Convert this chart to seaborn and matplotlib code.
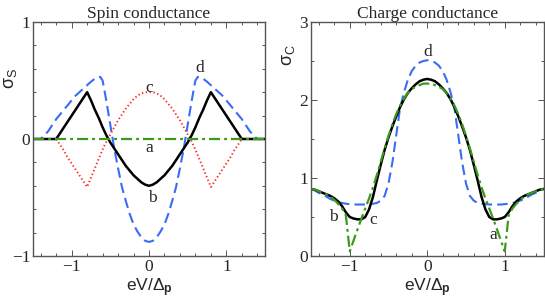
import numpy as np
import pandas as pd
import matplotlib
matplotlib.use("Agg")
import matplotlib.pyplot as plt
from matplotlib.ticker import MultipleLocator
import seaborn as sns

# ---------------- data ----------------
x_grid = [-1.5, -1.45, -1.4, -1.35, -1.3, -1.25, -1.2, -1.15, -1.1, -1.05,
          -1.0, -0.95, -0.9, -0.85, -0.8, -0.75, -0.7, -0.65, -0.6, -0.55,
          -0.5, -0.45, -0.4, -0.35, -0.3, -0.25, -0.2, -0.15, -0.1, -0.05,
          0.0, 0.05, 0.1, 0.15, 0.2, 0.25, 0.3, 0.35, 0.4, 0.45,
          0.5, 0.55, 0.6, 0.65, 0.7, 0.75, 0.8, 0.85, 0.9, 0.95,
          1.0, 1.05, 1.1, 1.15, 1.2, 1.25, 1.3, 1.35, 1.4, 1.45, 1.5]

# Spin conductance
spin_a_x = [-1.5, 1.5]
spin_a = [0.0, 0.0]
spin_b = [0, 0, 0, 0, 0, 0, 0, 0.05, 0.10, 0.15,
          0.20, 0.25, 0.30, 0.35, 0.40, 0.33, 0.25, 0.18, 0.10, 0.03,
          -0.03, -0.08, -0.13, -0.18, -0.23, -0.27, -0.31, -0.34, -0.37, -0.39,
          -0.40, -0.39, -0.37, -0.34, -0.31, -0.27, -0.23, -0.18, -0.13, -0.08,
          -0.03, 0.03, 0.10, 0.18, 0.25, 0.33, 0.40, 0.35, 0.30, 0.25,
          0.20, 0.15, 0.10, 0.05, 0, 0, 0, 0, 0, 0, 0]
spin_c = [0, 0, 0, 0, 0, 0, 0, -0.05, -0.10, -0.16,
          -0.21, -0.26, -0.31, -0.36, -0.41, -0.33, -0.25, -0.17, -0.09, -0.02,
          0.04, 0.10, 0.16, 0.21, 0.26, 0.30, 0.34, 0.37, 0.39, 0.40,
          0.40, 0.40, 0.39, 0.37, 0.34, 0.30, 0.26, 0.21, 0.16, 0.10,
          0.04, -0.02, -0.09, -0.17, -0.25, -0.33, -0.41, -0.36, -0.31, -0.26,
          -0.21, -0.16, -0.10, -0.05, 0, 0, 0, 0, 0, 0, 0]
spin_d_x = [-1.5, -1.45, -1.4, -1.35, -1.3, -1.25, -1.2, -1.15, -1.1, -1.05,
            -1.0, -0.95, -0.9, -0.85, -0.8, -0.75, -0.7, -0.66, -0.63, -0.6, -0.55,
            -0.5, -0.45, -0.4, -0.35, -0.3, -0.25, -0.2, -0.15, -0.1, -0.05,
            0.0, 0.05, 0.1, 0.15, 0.2, 0.25, 0.3, 0.35, 0.4, 0.45,
            0.5, 0.55, 0.6, 0.63, 0.66, 0.7, 0.75, 0.8, 0.85, 0.9, 0.95,
            1.0, 1.05, 1.1, 1.15, 1.2, 1.25, 1.3, 1.35, 1.4, 1.45, 1.5]
spin_d = [0, 0, 0, 0.03, 0.07, 0.12, 0.17, 0.21, 0.25, 0.29,
          0.33, 0.37, 0.40, 0.43, 0.46, 0.49, 0.515, 0.528, 0.53, 0.50, 0.32,
          0.12, -0.08, -0.25, -0.41, -0.53, -0.64, -0.73, -0.79, -0.84, -0.87,
          -0.88, -0.87, -0.84, -0.79, -0.73, -0.64, -0.53, -0.41, -0.25, -0.08,
          0.12, 0.32, 0.50, 0.53, 0.528, 0.515, 0.49, 0.46, 0.43, 0.40, 0.37,
          0.33, 0.29, 0.25, 0.21, 0.17, 0.12, 0.07, 0.03, 0, 0, 0]

# Charge conductance
charge_a = [0.86, 0.85, 0.83, 0.81, 0.79, 0.76, 0.72, 0.67, 0.61, 0.52,
            0.06, 0.20, 0.34, 0.48, 0.61, 0.74, 0.88, 1.04, 1.21, 1.38,
            1.54, 1.69, 1.82, 1.93, 2.02, 2.09, 2.14, 2.17, 2.19, 2.21,
            2.21, 2.21, 2.19, 2.17, 2.14, 2.09, 2.02, 1.93, 1.82, 1.69,
            1.54, 1.38, 1.21, 1.04, 0.88, 0.74, 0.61, 0.48, 0.34, 0.20,
            0.06, 0.52, 0.61, 0.67, 0.72, 0.76, 0.79, 0.81, 0.83, 0.85, 0.86]
charge_b = [0.86, 0.85, 0.83, 0.81, 0.79, 0.77, 0.74, 0.70, 0.64, 0.56,
            0.50, 0.48, 0.47, 0.47, 0.50, 0.60, 0.76, 0.97, 1.17, 1.36,
            1.52, 1.66, 1.79, 1.91, 2.01, 2.09, 2.15, 2.20, 2.24, 2.26,
            2.27, 2.26, 2.24, 2.20, 2.15, 2.09, 2.01, 1.91, 1.79, 1.66,
            1.52, 1.36, 1.17, 0.97, 0.76, 0.60, 0.50, 0.47, 0.47, 0.48,
            0.50, 0.56, 0.64, 0.70, 0.74, 0.77, 0.79, 0.81, 0.83, 0.85, 0.86]
charge_d = [0.86, 0.84, 0.81, 0.79, 0.76, 0.73, 0.71, 0.69, 0.68, 0.67,
            0.665, 0.66, 0.66, 0.66, 0.66, 0.665, 0.67, 0.68, 0.71, 0.77,
            0.93, 1.20, 1.55, 1.90, 2.10, 2.26, 2.37, 2.44, 2.48, 2.50,
            2.51, 2.50, 2.48, 2.44, 2.37, 2.26, 2.10, 1.90, 1.55, 1.20,
            0.93, 0.77, 0.71, 0.68, 0.67, 0.665, 0.66, 0.66, 0.66, 0.66,
            0.665, 0.67, 0.68, 0.69, 0.71, 0.73, 0.76, 0.79, 0.81, 0.84, 0.86]

titles = ["Spin conductance", "Charge conductance"]
xlabel = "eV/Δ$_\\mathbf{p}$"
ylabels = ["σ$_\\mathrm{S}$", "σ$_\\mathrm{C}$"]
x_ticks = [-1, 0, 1]
x_ticklabels = ["\u22121", "0", "1"]
spin_yticks = [-1, 0, 1]
spin_yticklabels = ["\u22121", "0", "1"]
charge_yticks = [0, 1, 2, 3]
charge_yticklabels = ["0", "1", "2", "3"]
spin_labels = [("a", 0.0, -0.08), ("b", 0.04, -0.50), ("c", 0.0, 0.44), ("d", 0.65, 0.61)]
charge_labels = [("a", 0.85, 0.27), ("b", -1.21, 0.50), ("c", -0.70, 0.46), ("d", 0.0, 2.62)]

# ---------------- style ----------------
sns.set_style("ticks")
plt.rcParams["font.family"] = ["Liberation Serif", "DejaVu Serif"]
plt.rcParams["mathtext.fontset"] = "custom"
plt.rcParams["mathtext.rm"] = "Liberation Sans"
plt.rcParams["mathtext.it"] = "Liberation Sans:italic"
plt.rcParams["mathtext.bf"] = "Liberation Sans:bold"

BLACK = "#000000"
BLUE = "#3a6cf4"
RED = "#ff2a2a"
GREEN = "#3b9a1c"
FRAME = "#555555"

fig = plt.figure(figsize=(5.45, 3.04), dpi=100)
ax1 = fig.add_axes([33 / 545, 48 / 304, 232 / 545, 234 / 304])
ax2 = fig.add_axes([311 / 545, 48 / 304, 232.5 / 545, 234 / 304])

# Spin panel
sns.lineplot(x=spin_d_x, y=spin_d, ax=ax1, color=BLUE, lw=1.5,
             linestyle=(0, (5, 2.5)), estimator=None, sort=False)
sns.lineplot(x=x_grid, y=spin_c, ax=ax1, color=RED, lw=1.4,
             linestyle=(0, (0.7, 1.3)), estimator=None, sort=False)
sns.lineplot(x=x_grid, y=spin_b, ax=ax1, color=BLACK, lw=1.8,
             estimator=None, sort=False)
sns.lineplot(x=spin_a_x, y=spin_a, ax=ax1, color=GREEN, lw=1.6,
             linestyle=(0, (5, 1.8, 1.3, 1.8)), estimator=None, sort=False)

# Charge panel
sns.lineplot(x=x_grid, y=charge_d, ax=ax2, color=BLUE, lw=1.5,
             linestyle=(0, (5, 2.5)), estimator=None, sort=False)
sns.lineplot(x=x_grid, y=charge_b, ax=ax2, color=BLACK, lw=1.8,
             estimator=None, sort=False)
sns.lineplot(x=x_grid, y=charge_a, ax=ax2, color=GREEN, lw=1.6,
             linestyle=(0, (5, 1.8, 1.3, 1.8)), estimator=None, sort=False)

for ax, title, ylab, yt, ytl, ylim, yminor, labels in [
        (ax1, titles[0], ylabels[0], spin_yticks, spin_yticklabels, (-1, 1), 0.2, spin_labels),
        (ax2, titles[1], ylabels[1], charge_yticks, charge_yticklabels, (0, 3), 0.5, charge_labels)]:
    ax.set_xlim(-1.5, 1.5)
    ax.set_ylim(*ylim)
    ax.set_xticks(x_ticks)
    ax.set_xticklabels(x_ticklabels)
    ax.set_yticks(yt)
    ax.set_yticklabels(ytl)
    ax.xaxis.set_minor_locator(MultipleLocator(0.2))
    ax.yaxis.set_minor_locator(MultipleLocator(yminor))
    ax.tick_params(which="both", direction="in", top=True, right=True,
                   color=FRAME, width=0.7, labelsize=12.5, pad=2)
    ax.tick_params(which="major", length=4.5)
    ax.tick_params(which="minor", length=2.5)
    for s in ax.spines.values():
        s.set_color(FRAME)
        s.set_linewidth(1.0)
    ax.set_title(title, fontsize=12.5, pad=3)
    ax.set_xlabel(xlabel, fontsize=12.5, family="Liberation Sans", labelpad=1)
    ax.set_ylabel(ylab, fontsize=13, family="Liberation Sans", rotation=90)
    for t, lx, ly in labels:
        ax.text(lx, ly, t, fontsize=12.5, ha="center", va="center")

ax1.yaxis.set_label_coords(-0.06, 0.76)
ax2.yaxis.set_label_coords(-0.06, 0.86)

fig.savefig("out.png", dpi=100)
